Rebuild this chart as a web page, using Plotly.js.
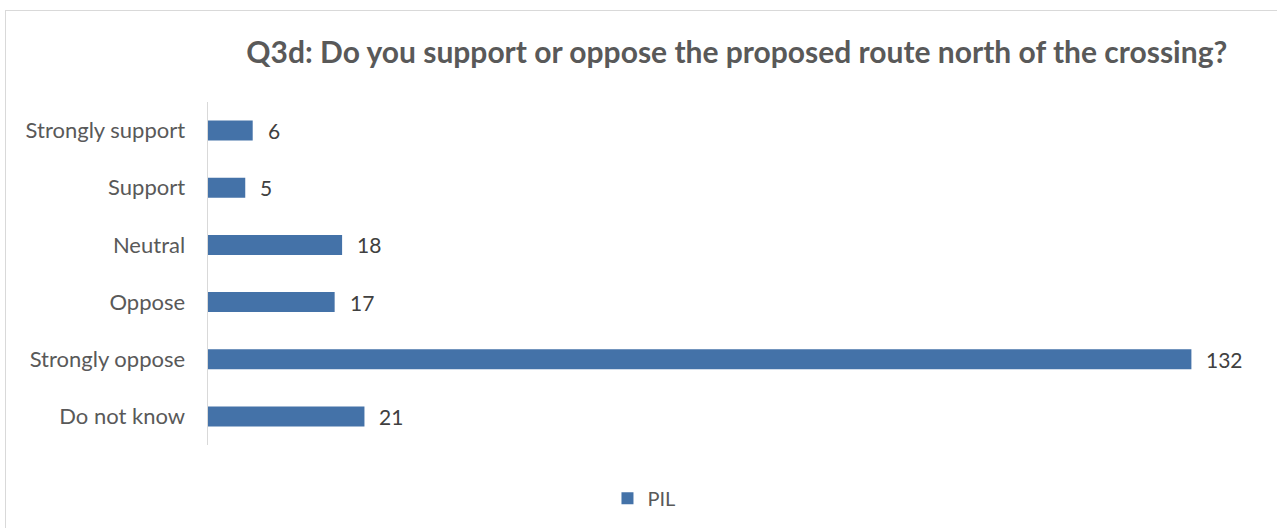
<!DOCTYPE html>
<html>
<head>
<meta charset="utf-8">
<script src="https://cdn.plot.ly/plotly-3.0.1.min.js"></script>
<style>
  html, body { margin: 0; padding: 0; background: #fff; }
  #wrap { position: relative; width: 1277px; height: 528px; overflow: hidden; }
  #frame { position: absolute; left: 5px; top: 10px; width: 1290px; height: 540px;
           border: 1px solid #d9d9d9; box-sizing: border-box; pointer-events: none; }
  #chart { position: absolute; left: 0; top: 0; width: 1277px; height: 528px; }
</style>
</head>
<body>
<div id="wrap">
  <div id="chart"></div>
  <div id="frame"></div>
</div>
<script>
// Survey responses for Q3d
const categories = ["Strongly support", "Support", "Neutral", "Oppose", "Strongly oppose", "Do not know"];
const counts = [6, 5, 18, 17, 132, 21];
const seriesName = "PIL";

const font = "Lato, 'Open Sans', 'Liberation Sans', sans-serif";

const trace = {
  type: "bar",
  orientation: "h",
  name: seriesName,
  y: categories,
  x: counts,
  marker: { color: "#4472a8" },
  hoverinfo: "x+y"
};

// value labels placed just past each bar end
const valueLabels = counts.map((v, i) => ({
  x: v,
  y: categories[i],
  xref: "x",
  yref: "y",
  text: String(v),
  showarrow: false,
  xanchor: "left",
  yanchor: "middle",
  xshift: 13,
  font: { family: font, size: 21, color: "#404040" }
}));

const layout = {
  width: 1277,
  height: 528,
  paper_bgcolor: "#ffffff",
  plot_bgcolor: "#ffffff",
  margin: { l: 208, r: 26, t: 102, b: 83, pad: 0, autoexpand: false },
  bargap: 0.65,
  title: {
    text: "<b>Q3d: Do you support or oppose the proposed route north of the crossing?</b>",
    font: { family: font, size: 30, color: "#595959" },
    x: 0.577, xanchor: "center",
    y: 0.9, yanchor: "middle"
  },
  xaxis: {
    range: [0, 140],
    visible: false,
    showgrid: false,
    zeroline: false
  },
  yaxis: {
    autorange: "reversed",
    type: "category",
    showline: true,
    linecolor: "#d9d9d9",
    linewidth: 1.5,
    showgrid: false,
    zeroline: false,
    ticks: "",
    ticklabelstandoff: 17,
    tickfont: { family: font, size: 22, color: "#595959" }
  },
  annotations: valueLabels,
  showlegend: true,
  legend: {
    orientation: "h",
    x: 0.418, xanchor: "center",
    y: -0.155, yanchor: "middle",
    font: { family: font, size: 20, color: "#595959" },
    itemwidth: 30
  }
};

Plotly.newPlot("chart", [trace], layout, { displayModeBar: false, staticPlot: true });
</script>
</body>
</html>
